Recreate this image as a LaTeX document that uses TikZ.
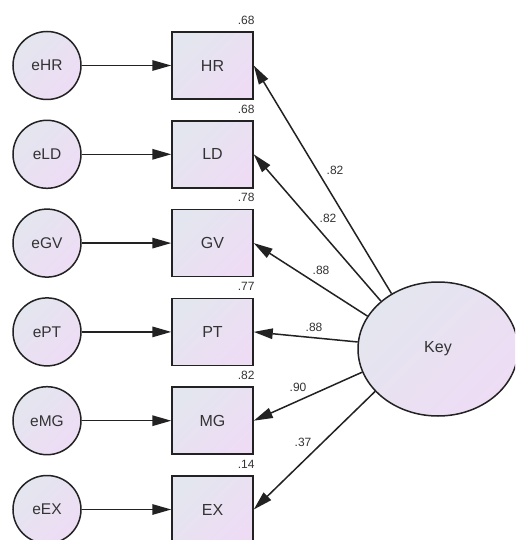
\documentclass[tikz,border=0pt]{standalone}
\usepackage{fontspec}
\setmainfont{Liberation Sans}
\usetikzlibrary{arrows.meta,shapes.geometric,calc}
\definecolor{cA}{HTML}{E3E6EE}
\definecolor{cB}{HTML}{EEDCF5}
\definecolor{txt}{HTML}{333333}
\definecolor{ln}{HTML}{222222}
\tikzset{
  shadefill/.style={top color=cA, bottom color=cB, shading angle=45},
  errc/.style={circle, draw=ln, line width=1.5pt, shadefill, minimum size=68pt, inner sep=0pt, font=\fontsize{15.5}{17}\selectfont, text=txt},
  obsbox/.style={rectangle, draw=ln, line width=1.5pt, shadefill, minimum width=81pt, minimum height=67pt, inner sep=0pt, font=\fontsize{16}{18}\selectfont, text=txt},
  latent/.style={ellipse, draw=ln, line width=1.5pt, shadefill, minimum width=160pt, minimum height=134pt, inner sep=0pt, font=\fontsize{16}{18}\selectfont, text=txt},
  conn/.style={draw=ln, line width=1.5pt, -{Triangle[length=19pt,width=10.5pt]}},
  num/.style={font=\fontsize{12}{14}\selectfont, text=txt, inner sep=0pt},
}
\begin{document}
\begin{tikzpicture}[x=1pt,y=-1pt]
\useasboundingbox (0,0) rectangle (515,540);
\clip (0,0) rectangle (515,540);
\fill[white] (0,0) rectangle (515,540);
\node[latent] (key) at (438,349) {Key};
\foreach \n/\lab/\r/\w/\ang/\lx/\ly [count=\i from 0] in
  {HR/HR/.68/.82/130.6/335/170,
   LD/LD/.68/.82/140.8/328/218,
   GV/GV/.78/.88/155/321/270,
   PT/PT/.77/.88/175.7/314/327,
   MG/MG/.82/.90/197/298/387,
   EX/EX/.14/.37/214/303/442}{
  \pgfmathsetmacro{\yy}{65.5+88.8*\i}
  \node[errc] (e\n) at (47,\yy) {e\lab};
  \node[obsbox] (b\n) at (212.5,\yy) {\lab};
  \node[num, anchor=east] (r\n) at ($(b\n.north east)+(1,-11)$) {\r};
  \draw[conn] (e\n.east) -- (b\n.west);
  \draw[conn] (key.\ang) -- (b\n.east);
  \node[num] (w\n) at (\lx,\ly) {\w};
}
\end{tikzpicture}
\end{document}
